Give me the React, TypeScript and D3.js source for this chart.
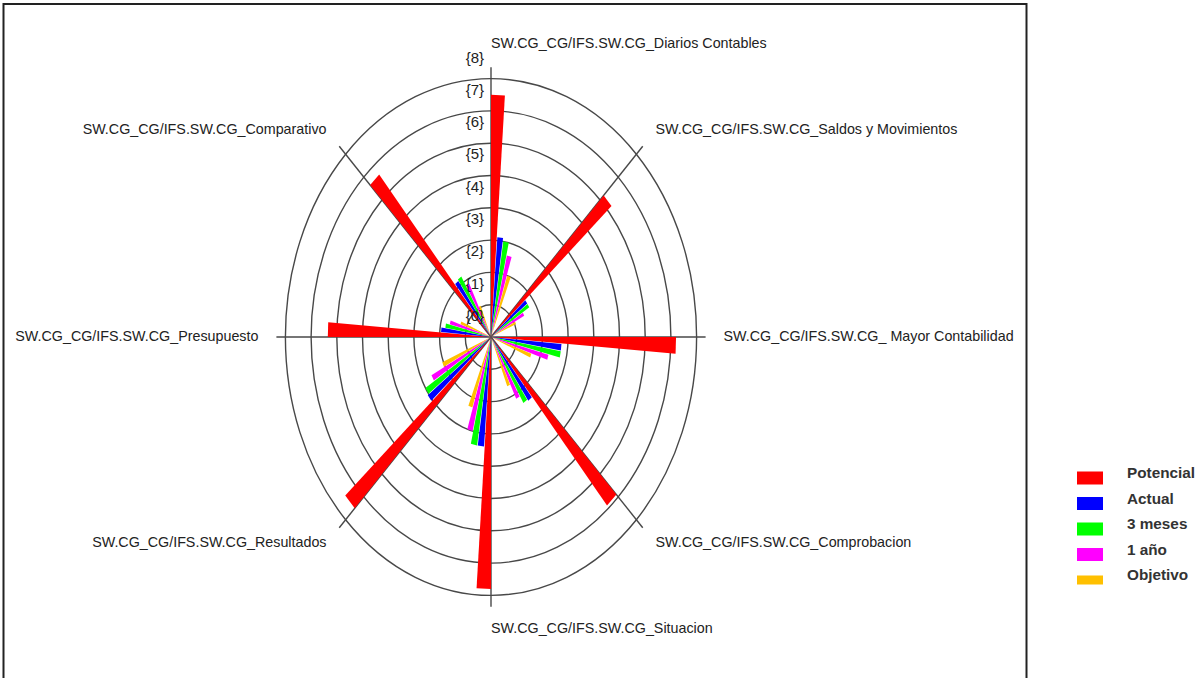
import React from 'react';
import * as d3 from 'd3';

// categories clockwise from the top
const categories = [
  'SW.CG_CG/IFS.SW.CG_Diarios Contables',
  'SW.CG_CG/IFS.SW.CG_Saldos y Movimientos',
  'SW.CG_CG/IFS.SW.CG_ Mayor Contabilidad',
  'SW.CG_CG/IFS.SW.CG_Comprobacion',
  'SW.CG_CG/IFS.SW.CG_Situacion',
  'SW.CG_CG/IFS.SW.CG_Resultados',
  'SW.CG_CG/IFS.SW.CG_Presupuesto',
  'SW.CG_CG/IFS.SW.CG_Comparativo',
];

const seriesNames = ['Potencial', 'Actual', '3 meses', '1 año', 'Objetivo'];
const seriesColors = ['#ff0000', '#0000ff', '#00ff00', '#ff00ff', '#ffc000'];

const potencial = [7.5, 6.2, 7.2, 6.9, 7.8, 7.5, 6.35, 6.65];
const actual = [3.1, 1.75, 2.75, 2.45, 3.4, 3.05, 1.95, 2.15];
const tresMeses = [3.0, 1.75, 2.75, 2.4, 3.4, 3.0, 1.8, 2.2];
const unAno = [2.6, 1.45, 2.3, 2.15, 3.0, 2.6, 1.65, 1.85];
const objetivo = [2.0, 1.05, 1.65, 1.65, 2.3, 2.05, 1.25, 1.05];

const seriesValues = [potencial, actual, tresMeses, unAno, objetivo];

const ringTicks = [0, 1, 2, 3, 4, 5, 6, 7, 8];
const ringLabels = ['{0}', '{1}', '{2}', '{3}', '{4}', '{5}', '{6}', '{7}', '{8}'];

const W = 1204;
const H = 678;
const cx = 491;
const cy = 337;

const App = () => {
  // the plot is an ellipse: x and y radii have their own scales
  const rx = d3.scaleLinear().domain([0, 8]).range([0, 205.6]);
  const ry = d3.scaleLinear().domain([0, 8]).range([0, 258.4]);

  const angle = d3.scaleBand().domain(categories).range([0, 2 * Math.PI]);
  const sub = d3.scaleBand()
    .domain(seriesNames)
    .range([0, angle.bandwidth() / 2])
    .paddingInner(0.1);

  const px = (r, a) => cx + rx(r) * Math.sin(a);
  const py = (r, a) => cy - ry(r) * Math.cos(a);

  const wedge = (r, a0, a1) => {
    const p = d3.path();
    p.moveTo(cx, cy);
    p.lineTo(px(r, a0), py(r, a0));
    p.lineTo(px(r, a1), py(r, a1));
    p.closePath();
    return p.toString();
  };

  const legendY = d3.scalePoint().domain(seriesNames).range([478, 580]);

  return (
    <svg width={W} height={H} style={{ position: 'absolute', left: 0, top: 0, background: '#fff' }}
      fontFamily="'Liberation Sans', Arial, sans-serif">
      <rect x={3.5} y={4} width={1023} height={700} fill="none" stroke="#222" strokeWidth={2} />

      {/* rings */}
      {ringTicks.filter(t => t > 0).map(t => (
        <ellipse key={t} cx={cx} cy={cy} rx={rx(t)} ry={ry(t)} fill="none" stroke="#484848" strokeWidth={1.4} />
      ))}

      {/* spokes */}
      {categories.map(c => {
        const a = angle(c);
        return (
          <line key={c} x1={cx} y1={cy} x2={px(8.35, a)} y2={py(8.35, a)} stroke="#484848" strokeWidth={1.4} />
        );
      })}

      {/* bars */}
      {seriesNames.map((s, si) => (
        <g key={s} fill={seriesColors[si]}>
          {categories.map((c, ci) => {
            const a0 = angle(c) + sub(s);
            const a1 = a0 + sub.bandwidth();
            return <path key={c} d={wedge(seriesValues[si][ci], a0, a1)} />;
          })}
        </g>
      ))}

      {/* ring labels */}
      {ringTicks.map((t, i) => (
        <text key={t} x={484} y={cy - ry(t) - 20} textAnchor="end" dominantBaseline="middle"
          fontSize={15} fill="#222">{ringLabels[i]}</text>
      ))}

      {/* category labels */}
      {categories.map(c => {
        const a = angle(c);
        const left = a > Math.PI + 0.01;
        return (
          <text key={c} x={px(9.05, a)} y={py(9.05, a)} textAnchor={left ? 'end' : 'start'}
            dominantBaseline="middle" fontSize={14.3} fill="#222">{c}</text>
        );
      })}

      {/* legend */}
      {seriesNames.map((s, i) => (
        <g key={s}>
          <rect x={1077} y={legendY(s) - (i === 4 ? 4.5 : 6.5)} width={26} height={i === 4 ? 9 : 13}
            fill={seriesColors[i]} />
          <text x={1127} y={legendY(s) - 4} dominantBaseline="middle" fontSize={15.3} fontWeight="bold"
            fill="#333">{s}</text>
        </g>
      ))}
    </svg>
  );
};

export default App;
